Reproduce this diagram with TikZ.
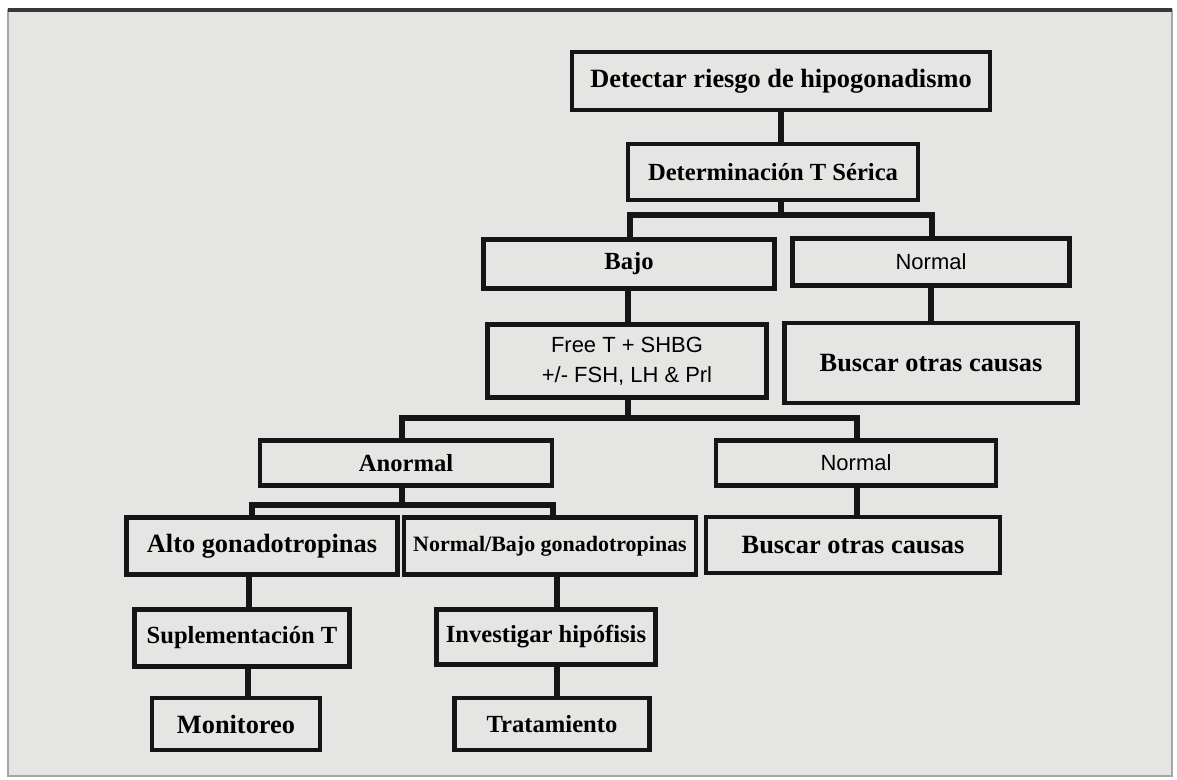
\documentclass[tikz,border=0pt]{standalone}
\usepackage{fontspec}
\setmainfont{Liberation Serif}
\setsansfont{Liberation Sans}
\definecolor{bg}{HTML}{E5E5E3}
\definecolor{ink}{HTML}{151515}
\tikzset{
  box/.style={draw=ink, line width=2.3pt, fill=bg, inner sep=0pt, align=center,
    font=\fontsize{14}{16}\selectfont\bfseries},
  bigbox/.style={box, font=\fontsize{15}{17}\selectfont\bfseries},
  smallbox/.style={box, font=\fontsize{12.5}{14}\selectfont\bfseries},
  sbox/.style={box, font=\fontsize{12.5}{17}\selectfont\sffamily},
  conn/.style={draw=ink, line width=2.9pt},
}
\newcommand{\bx}[7]{\node[#1, minimum width=#4*0.02cm, minimum height=#5*0.02cm] (#2) at (#6,#7) {#3};}
\begin{document}
\begin{tikzpicture}[x=0.02cm, y=-0.02cm]
\useasboundingbox (0,0) rectangle (1177,780);
\fill[white] (0,0) rectangle (1177,780);
\fill[bg] (8,10) rectangle (1172,776);
\draw[gray!70, line width=0.8pt] (8,10) rectangle (1172,776);
\draw[ink!85, line width=2pt] (8,10) -- (1172,10);
% nodes: style, name, text, width, height, cx, cy
\bx{bigbox}{det}{Detectar riesgo de hipogonadismo}{418}{58}{781}{81}
\bx{box}{ser}{Determinaci\'on T S\'erica}{290}{56}{773}{172}
\bx{box}{bajo}{Bajo}{291}{49}{629}{264}
\bx{sbox}{norm1}{Normal}{277}{47}{931}{262}
\bx{sbox}{free}{Free T + SHBG\\+/- FSH, LH \& Prl}{279}{73}{627}{361}
\bx{bigbox}{bus1}{Buscar otras causas}{293}{80}{931}{363}
\bx{box}{anor}{Anormal}{292}{45}{406}{463}
\bx{sbox}{norm2}{Normal}{280}{45}{856}{463}
\bx{bigbox}{alto}{Alto gonadotropinas}{271}{57}{262}{546}
\bx{smallbox}{nb}{Normal/Bajo gonadotropinas}{292}{57}{550}{546}
\bx{bigbox}{bus2}{Buscar otras causas}{294}{56}{853}{545}
\bx{box}{sup}{Suplementaci\'on T}{215}{57}{242}{638}
\bx{box}{inv}{Investigar hip\'ofisis}{219}{55}{546}{637}
\bx{bigbox}{mon}{Monitoreo}{168}{52}{236}{724}
\bx{box}{tra}{Tratamiento}{195}{52}{552}{724}
% connectors
\draw[conn] (det.south -| 781,0) -- (ser.north -| 781,0);
\coordinate (b1) at (781,215);
\draw[conn] (ser.south -| b1) -- (b1);
\draw[conn] (bajo.north -| 630,0) -- (630,215) -- (932,215) -- (norm1.north -| 932,0);
\draw[conn] (bajo.south -| 628,0) -- (free.north -| 628,0);
\draw[conn] (norm1.south -| 931,0) -- (bus1.north -| 931,0);
\draw[conn] (free.south -| 628,0) -- (628,418);
\draw[conn] (anor.north -| 402,0) -- (402,418) -- (857,418) -- (norm2.north -| 857,0);
\draw[conn] (anor.south -| 402,0) -- (402,505);
\draw[conn] (alto.north -| 252,0) -- (252,505) -- (553,505) -- (nb.north -| 553,0);
\draw[conn] (norm2.south -| 857,0) -- (bus2.north -| 857,0);
\draw[conn] (alto.south -| 249,0) -- (sup.north -| 249,0);
\draw[conn] (sup.south -| 248,0) -- (mon.north -| 248,0);
\draw[conn] (nb.south -| 557,0) -- (inv.north -| 557,0);
\draw[conn] (inv.south -| 557,0) -- (tra.north -| 557,0);
\end{tikzpicture}
\end{document}
